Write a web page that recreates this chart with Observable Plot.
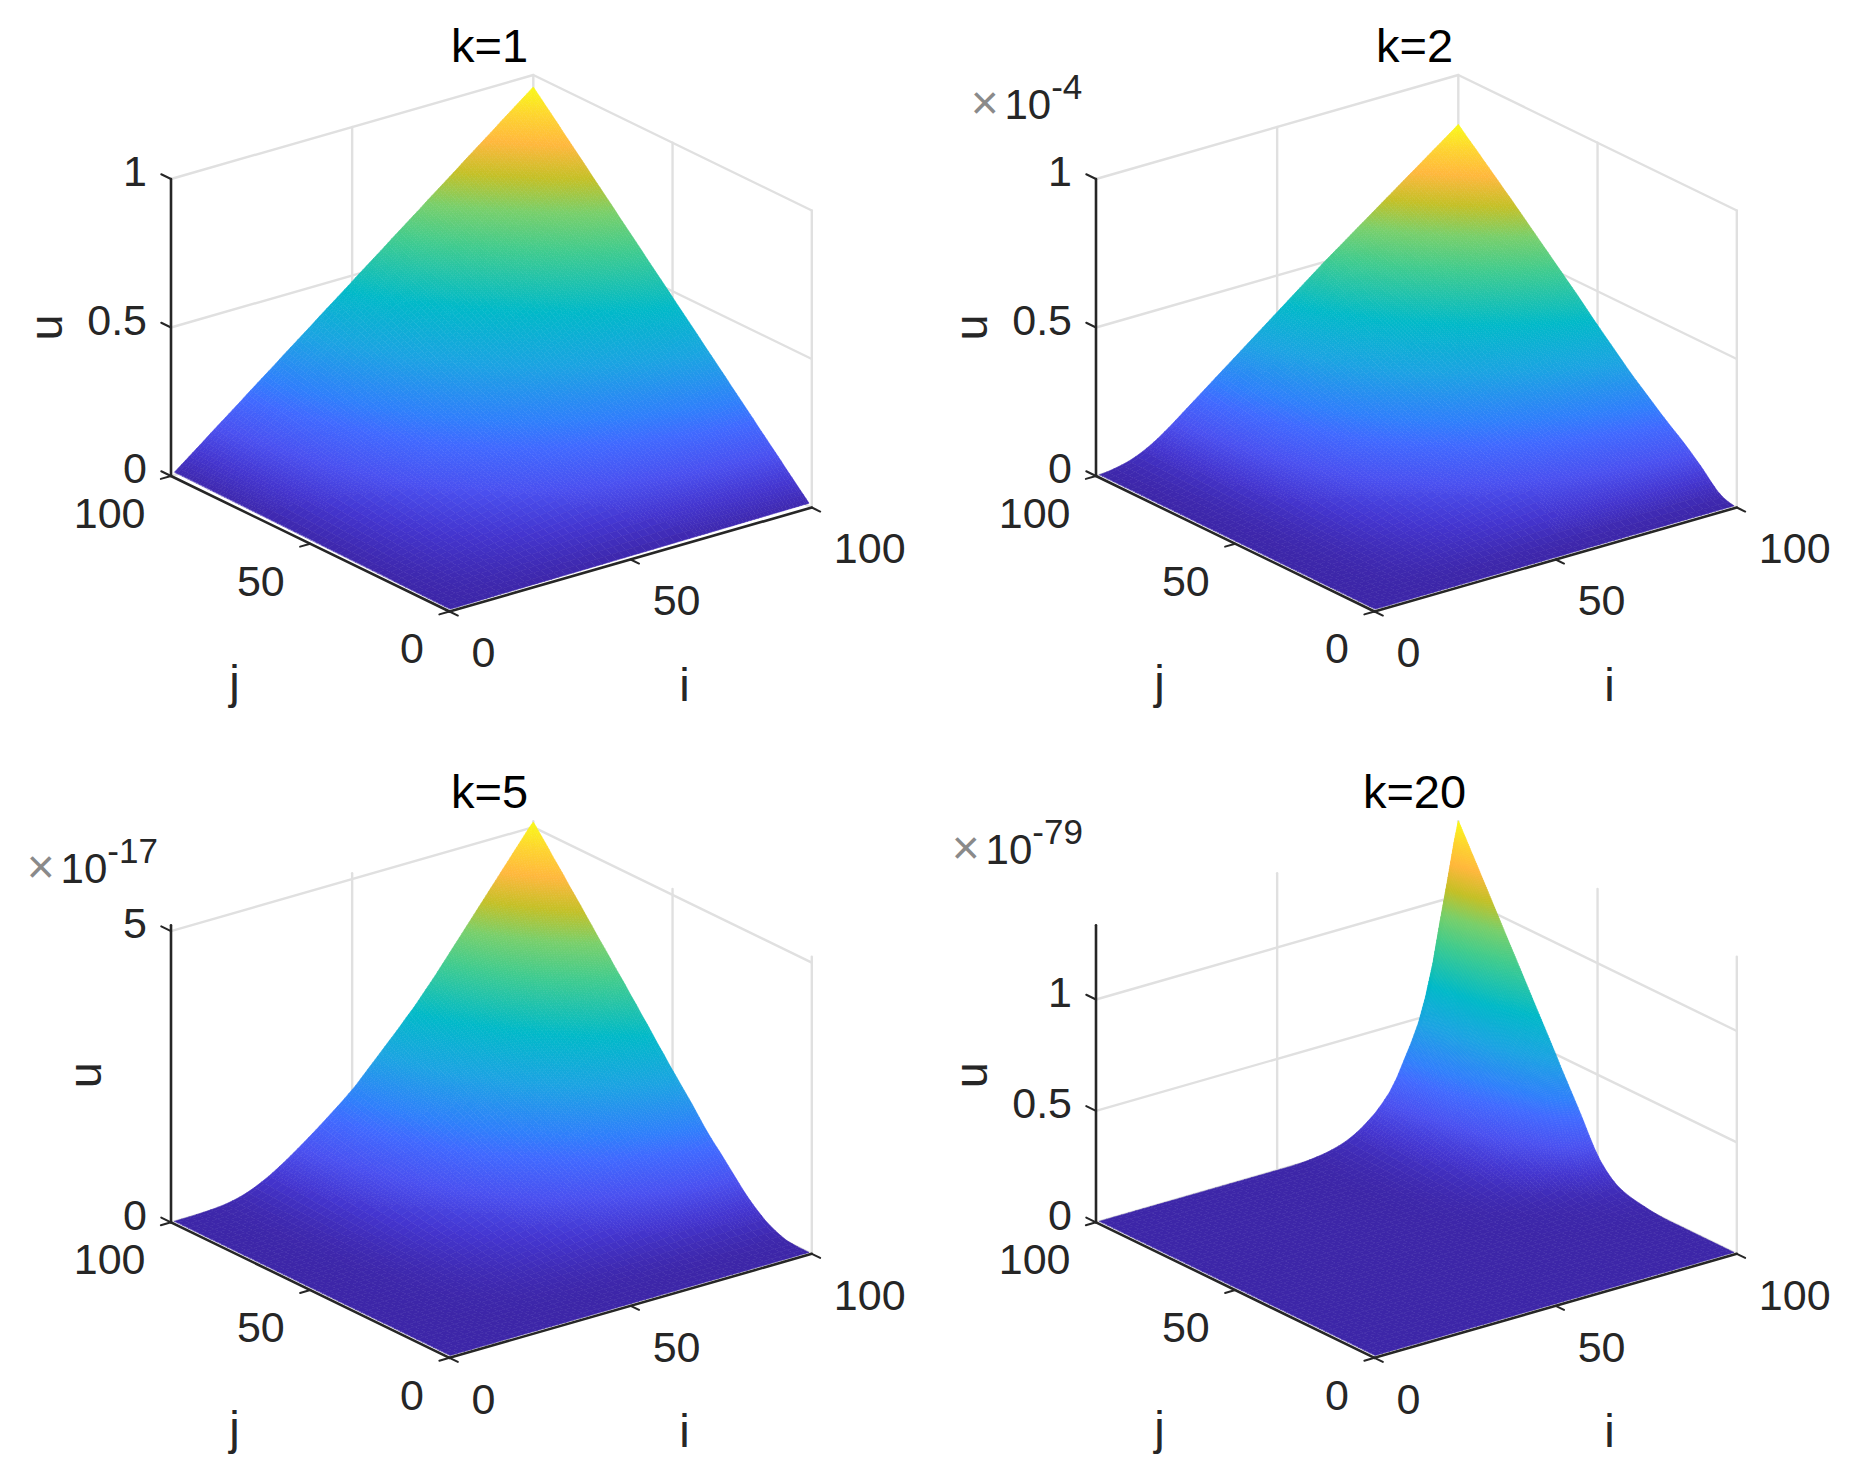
<!DOCTYPE html>
<html>
<head>
<meta charset="utf-8">
<style>html,body{margin:0;padding:0;background:#fff}svg{display:block}</style>
<script src="https://cdn.jsdelivr.net/npm/d3@7"></script>
<script src="https://cdn.jsdelivr.net/npm/@observablehq/plot@0.6"></script>
</head>
<body>
<script>
// Grid positions along i and j
const gridIdx = [1,3,5,7,9,11,13,15,17,19,21,23,25,27,29,31,33,35,37,39,41,43,45,47,49,51,53,55,57,59,61,63,65,67,69,71,73,75,77,79,81,83,85,87,89,91,93,95,97,99,100];

// Edge profiles: u along j=100 (edgeI) and along i=100 (edgeJ)
const edgeK1 = [.01,.029,.048,.067,.086,.106,.125,.144,.163,.182,.202,.221,.24,.259,.278,.298,.317,.336,.355,.374,.394,.413,.432,.451,.47,.49,.509,.528,.547,.566,.586,.605,.624,.643,.662,.682,.701,.72,.739,.758,.778,.797,.816,.835,.854,.874,.893,.912,.931,.95,.96];
const edgeIK2 = [.001,.003,.007,.012,.018,.027,.038,.051,.066,.083,.101,.12,.139,.158,.177,.196,.215,.234,.253,.272,.291,.31,.329,.348,.367,.386,.405,.424,.443,.462,.481,.5,.518,.536,.554,.572,.59,.608,.626,.644,.662,.68,.698,.716,.734,.752,.77,.788,.806,.824,.834];
const edgeJK2 = [.001,.005,.012,.024,.042,.062,.081,.098,.115,.131,.146,.16,.175,.19,.206,.222,.238,.254,.27,.287,.305,.323,.341,.359,.377,.395,.414,.433,.452,.47,.488,.506,.524,.542,.56,.578,.596,.614,.632,.65,.668,.685,.703,.72,.738,.755,.773,.79,.807,.825,.834];
const edgeIK5 = [0,.001,.003,.006,.011,.018,.028,.042,.065,.095,.135,.185,.245,.31,.385,.465,.55,.64,.73,.825,.92,1.02,1.12,1.22,1.33,1.44,1.57,1.7,1.83,1.96,2.09,2.22,2.36,2.49,2.64,2.79,2.94,3.1,3.26,3.42,3.58,3.74,3.9,4.06,4.22,4.38,4.54,4.7,4.86,5.02,5.09];
const edgeJK5 = [0,0,.002,.008,.02,.05,.09,.137,.195,.27,.35,.44,.54,.65,.76,.87,.98,1.08,1.19,1.31,1.44,1.57,1.69,1.81,1.93,2.05,2.18,2.3,2.43,2.56,2.68,2.81,2.93,3.06,3.18,3.3,3.43,3.55,3.67,3.8,3.92,4.05,4.17,4.29,4.42,4.54,4.66,4.79,4.91,5.03,5.09];
const edgeIK20 = [0,0,0,0,0,0,0,0,0,0,0,0,0,0,0,0,0,0,0,0,0,0,0,0,0,0,0,.001,.002,.005,.009,.014,.021,.03,.042,.058,.078,.103,.13,.165,.205,.26,.33,.4,.48,.59,.73,.91,1.08,1.26,1.335];
const edgeJK20 = [0,0,0,0,0,0,0,0,0,0,0,0,0,.001,.003,.006,.01,.014,.019,.025,.034,.046,.065,.09,.12,.16,.208,.26,.309,.356,.403,.45,.5,.548,.596,.643,.691,.739,.787,.835,.882,.93,.978,1.026,1.074,1.122,1.17,1.217,1.265,1.312,1.335];

const titles = ["k=1","k=2","k=5","k=20"];
const exponents = [null,"-4","-17","-79"];
const zLimits = [1,1,5.1,1.333];
const zTicks = [[0,.5,1],[0,.5,1],[0,5],[0,.5,1]];
const ijTicks = [0,50,100];
const colorStops = [0,.06,.125,.2,.25,.36,.475,.61,.7,.78,.86,.93,1];
const colorValues = ["#3d26a8","#4435cf","#4a50f0","#4069ff","#2f7ffb","#1ba3e2","#00b9c8","#3fcb8e","#78cf6a","#c4c026","#ffb73c","#fed42e","#f9fb15"];

// Layout and view
const fontFamily = "Liberation Sans, Arial, sans-serif";
const view = {ox:449, oy:611, ix:3.623, iy:-1.04, jx:-2.785, jy:-1.355, h:297};
const panels = [
  {dx:0,  dy:0,     I:edgeK1,  J:edgeK1,  uX:46.5, uY:327},
  {dx:925,dy:0,     I:edgeIK2, J:edgeJK2, uX:46.5, uY:327, tenEnd:125.7, timesX:59.3, base:118.5},
  {dx:0,  dy:746.3, I:edgeIK5, J:edgeJK5, uX:85,   uY:328.5, tenEnd:106.8, timesX:40.3, base:136.5},
  {dx:925,dy:746.3, I:edgeIK20,J:edgeJK20,uX:46.5, uY:328.5, tenEnd:106.8, timesX:40.3, base:117.5}
];
panels.forEach((p,n)=>{p.zlim=zLimits[n];p.zt=zTicks[n];p.title=titles[n];p.exp=exponents[n];});
const px=(p,i,j)=>p.dx+view.ox+view.ix*i+view.jx*j;
const py=(p,i,j,z)=>p.dy+view.oy+view.iy*i+view.jy*j-view.h*z/p.zlim;

// Surface faces, back to front. Each face is shaded across its four corners
// (as interpolated shading does), in as many steps as its colour range needs.
const cells=[];
let cid=0;
panels.forEach(p=>{
  const umax=p.I[p.I.length-1];
  const n=gridIdx.length;
  for(let a=n-2;a>=0;a--)for(let b=n-2;b>=0;b--){
    const i0=gridIdx[a],i1=gridIdx[a+1],j0=gridIdx[b],j1=gridIdx[b+1];
    const u00=p.I[a]*p.J[b]/umax,u10=p.I[a+1]*p.J[b]/umax,u11=p.I[a+1]*p.J[b+1]/umax,u01=p.I[a]*p.J[b+1]/umax;
    const m=Math.min(14,Math.max(1,Math.ceil((u11-u00)/umax/0.014)));
    const at=(s,r)=>{
      const u=(1-s)*(1-r)*u00+s*(1-r)*u10+s*r*u11+(1-s)*r*u01;
      const i=i0+(i1-i0)*s,j=j0+(j1-j0)*r;
      return {u,x:px(p,i,j),y:py(p,i,j,u)};
    };
    for(let sa=m-1;sa>=0;sa--)for(let sb=m-1;sb>=0;sb--){
      const c=[at(sa/m,sb/m),at((sa+1)/m,sb/m),at((sa+1)/m,(sb+1)/m),at(sa/m,(sb+1)/m)];
      const t=d3.mean(c,q=>q.u)/umax;
      c.forEach(q=>cells.push({id:cid,t,x:q.x,y:q.y}));
      cid++;
    }
  }
});

// Wall grid, axes, ticks
const gridLines=[],axisLines=[],tickLines=[],labels=[];
let lid=0;
const seg=(arr,pts)=>{pts.forEach(q=>arr.push({id:lid,x:q[0],y:q[1]}));lid++;};
panels.forEach(p=>{
  const P=(i,j,z)=>[px(p,i,j),py(p,i,j,z)];
  [[50,100],[100,100],[100,50],[100,0]].forEach(([i,j])=>seg(gridLines,[P(i,j,0),P(i,j,p.zlim)]));
  p.zt.forEach(z=>seg(gridLines,[P(0,100,z),P(100,100,z),P(100,0,z)]));
  seg(axisLines,[P(0,100,0),P(0,100,p.zlim)]);
  seg(axisLines,[P(0,100,0),P(0,0,0)]);
  seg(axisLines,[P(0,0,0),P(100,0,0)]);
  p.zt.forEach(z=>{
    seg(tickLines,[P(0,100,z),P(0,103.5,z)]);
    const q=P(0,100,z);
    labels.push({x:q[0]-24,y:q[1]-6.5,text:String(z),anchor:"end"});
  });
  ijTicks.forEach(v=>{
    seg(tickLines,[P(0,v,0),P(-2.8,v,0)]);
    seg(tickLines,[P(v,0,0),P(v,-3,0)]);
    const a=P(0,v,0),b=P(v,0,0);
    labels.push({x:a[0]-25.5,y:a[1]+38,text:String(v),anchor:"end"});
    labels.push({x:b[0]+22,y:b[1]+42,text:String(v),anchor:"start"});
  });
});
const endLabels=labels.filter(d=>d.anchor==="end"), startLabels=labels.filter(d=>d.anchor==="start");
const titleRows=panels.map(p=>({x:p.dx+489,y:p.dy+61.5,text:p.title}));
const uRows=panels.map(p=>({x:p.dx+p.uX,y:p.dy+p.uY,text:"u"}));
const iRows=panels.map(p=>({x:p.dx+684,y:p.dy+685,text:"i"}));
const jRows=panels.map(p=>({x:p.dx+234,y:p.dy+682,text:"j"}));
const expPanels=panels.filter(p=>p.exp);
const timesRows=expPanels.map(p=>({x:p.dx+p.timesX,y:p.dy+p.base,text:"×"}));
const tenRows=expPanels.map(p=>({x:p.dx+p.tenEnd,y:p.dy+p.base,text:"10"}));
const supRows=expPanels.map(p=>({x:p.dx+p.tenEnd,y:p.dy+p.base-20,text:p.exp}));

const txt=(rows,o)=>Plot.text(rows,{x:"x",y:"y",text:"text",fontFamily,...o});
const chart=Plot.plot({
  width:1850,height:1482,margin:0,
  x:{domain:[0,1850],range:[0,1850],axis:null},
  y:{domain:[0,1482],range:[0,1482],axis:null},
  color:{type:"linear",domain:colorStops,range:colorValues},
  marks:[
    Plot.line(gridLines,{x:"x",y:"y",z:"id",stroke:"#e0e0e0",strokeWidth:2.4}),
    Plot.line(cells,{x:"x",y:"y",z:"id",fill:"t",stroke:"t",strokeWidth:.6,curve:"linear-closed"}),
    Plot.line(axisLines,{x:"x",y:"y",z:"id",stroke:"#262626",strokeWidth:2.6}),
    Plot.line(tickLines,{x:"x",y:"y",z:"id",stroke:"#262626",strokeWidth:2}),
    txt(endLabels,{fontSize:43,textAnchor:"end",lineAnchor:"middle",fill:"#262626"}),
    txt(startLabels,{fontSize:43,textAnchor:"start",lineAnchor:"middle",fill:"#262626"}),
    txt(titleRows,{fontSize:47,textAnchor:"middle",lineAnchor:"bottom",fill:"#000"}),
    txt(uRows,{fontSize:47,textAnchor:"middle",lineAnchor:"middle",rotate:-90,fill:"#262626"}),
    txt(iRows,{fontSize:47,textAnchor:"middle",lineAnchor:"middle",fill:"#262626"}),
    txt(jRows,{fontSize:47,textAnchor:"middle",lineAnchor:"middle",fill:"#262626"}),
    txt(timesRows,{fontSize:48,textAnchor:"middle",lineAnchor:"bottom",fill:"#8a8a8a"}),
    txt(tenRows,{fontSize:42,textAnchor:"end",lineAnchor:"bottom",fill:"#262626"}),
    txt(supRows,{fontSize:35,textAnchor:"start",lineAnchor:"bottom",fill:"#262626"})
  ]
});
document.body.appendChild(chart);
</script>
</body>
</html>
